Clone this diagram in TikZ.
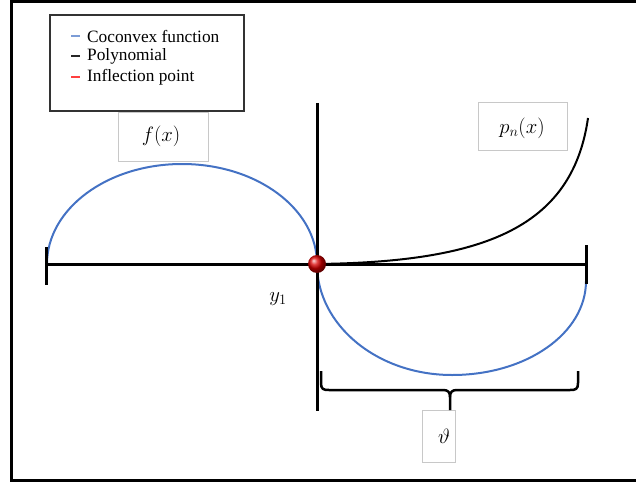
\documentclass[tikz,border=0pt]{standalone}
\usepackage{fontspec}
\setmainfont{Liberation Serif}
\usetikzlibrary{shapes.geometric}
\definecolor{cvblue}{RGB}{68,114,196}
\definecolor{lblgray}{RGB}{200,200,200}
\tikzset{
  axisline/.style={line width=3pt, black},
  bluecurve/.style={line width=2pt, cvblue},
  polycurve/.style={line width=2pt, black},
  labelbox/.style={draw=lblgray, line width=0.8pt, fill=white, inner sep=0pt},
  legendbox/.style={draw=black!80, line width=2pt, fill=white},
  legendtext/.style={anchor=west, font=\fontsize{17.3}{19}\selectfont, inner sep=0pt},
  mathlabel/.style={font=\huge},
  bracestyle/.style={line width=2.5pt, black, line join=round}
}
\begin{document}
\begin{tikzpicture}[x=1pt,y=-1pt]
\useasboundingbox (0,0) rectangle (636,484);
% outer frame
\draw[line width=3pt] (636,2) -- (11.5,2) -- (11.5,480) -- (636,480);
% legend
\node[legendbox, minimum width=194pt, minimum height=96pt, anchor=north west] (legend) at (49,14) {};
\node[legendtext] (l1) at (87,36) {Coconvex function};
\node[legendtext] (l2) at (87,56) {Polynomial};
\node[legendtext] (l3) at (87,77) {Inflection point};
\draw[line width=1.3pt, cvblue!70] (71,36) -- (80,36);
\draw[line width=1.3pt, black!85] (71,56) -- (80,56);
\draw[line width=1.3pt, red!75] (71,77) -- (80,77);
% label boxes
\node[labelbox, minimum width=90pt, minimum height=49pt, anchor=north west] (fbox) at (118,112) {};
\node[mathlabel] (ftext) at (161,136) {$f(x)$};
\node[labelbox, minimum width=89pt, minimum height=48pt, anchor=north west] (pbox) at (478,102) {};
\node[mathlabel] (ptext) at (522,128) {$p_n(x)$};
\node[labelbox, minimum width=33pt, minimum height=52pt, anchor=north west] (tbox) at (422,410) {};
\node[mathlabel] (ttext) at (444,436) {$\vartheta$};
\node[mathlabel] (ylab) at (278,299) {$y_1$};
% coordinates
\coordinate (O) at (317,264);
\coordinate (L) at (46,264);
\coordinate (R) at (587,264);
\coordinate (Vt) at (317,103);
\coordinate (Vb) at (317,411);
\coordinate (Lt) at (46,247);
\coordinate (Lb) at (46,285);
\coordinate (Rt) at (586,245);
\coordinate (Rb) at (586,284);
\coordinate (Pend) at (588,118);
% blue curves
\draw[bluecurve] (47,264) .. controls (47,209) and (107,164) .. (182,164)
  .. controls (257,164) and (317,209) .. (O);
\draw[bluecurve] (O) .. controls (317,325) and (377,375) .. (452,375)
  .. controls (527,375) and (586,333) .. (586,281);
% axes
\draw[axisline] (L) -- (R);
\draw[axisline] (Vt) -- (Vb);
\draw[axisline] (Lt) -- (Lb);
\draw[axisline] (Rt) -- (Rb);
% polynomial
\draw[polycurve] (O) .. controls (480,262) and (572,230) .. (Pend);
% brace
\coordinate (bl) at (321,371);
\coordinate (br) at (578,371);
\coordinate (btip) at (450,410);
\draw[bracestyle] (bl) -- (321,383) .. controls (321,389) and (323,390) .. (329,390)
  -- (443,390) .. controls (448,390) and (450,392) .. (450,397) -- (btip);
\draw[bracestyle] (br) -- (578,383) .. controls (578,389) and (576,390) .. (570,390)
  -- (457,390) .. controls (452,390) and (450,392) .. (450,397);
% inflection point
\shade[ball color=red!85!black] (O) circle (9pt);
\node[circle, minimum size=18pt, inner sep=0pt] (ip) at (O) {};
\end{tikzpicture}
\end{document}
